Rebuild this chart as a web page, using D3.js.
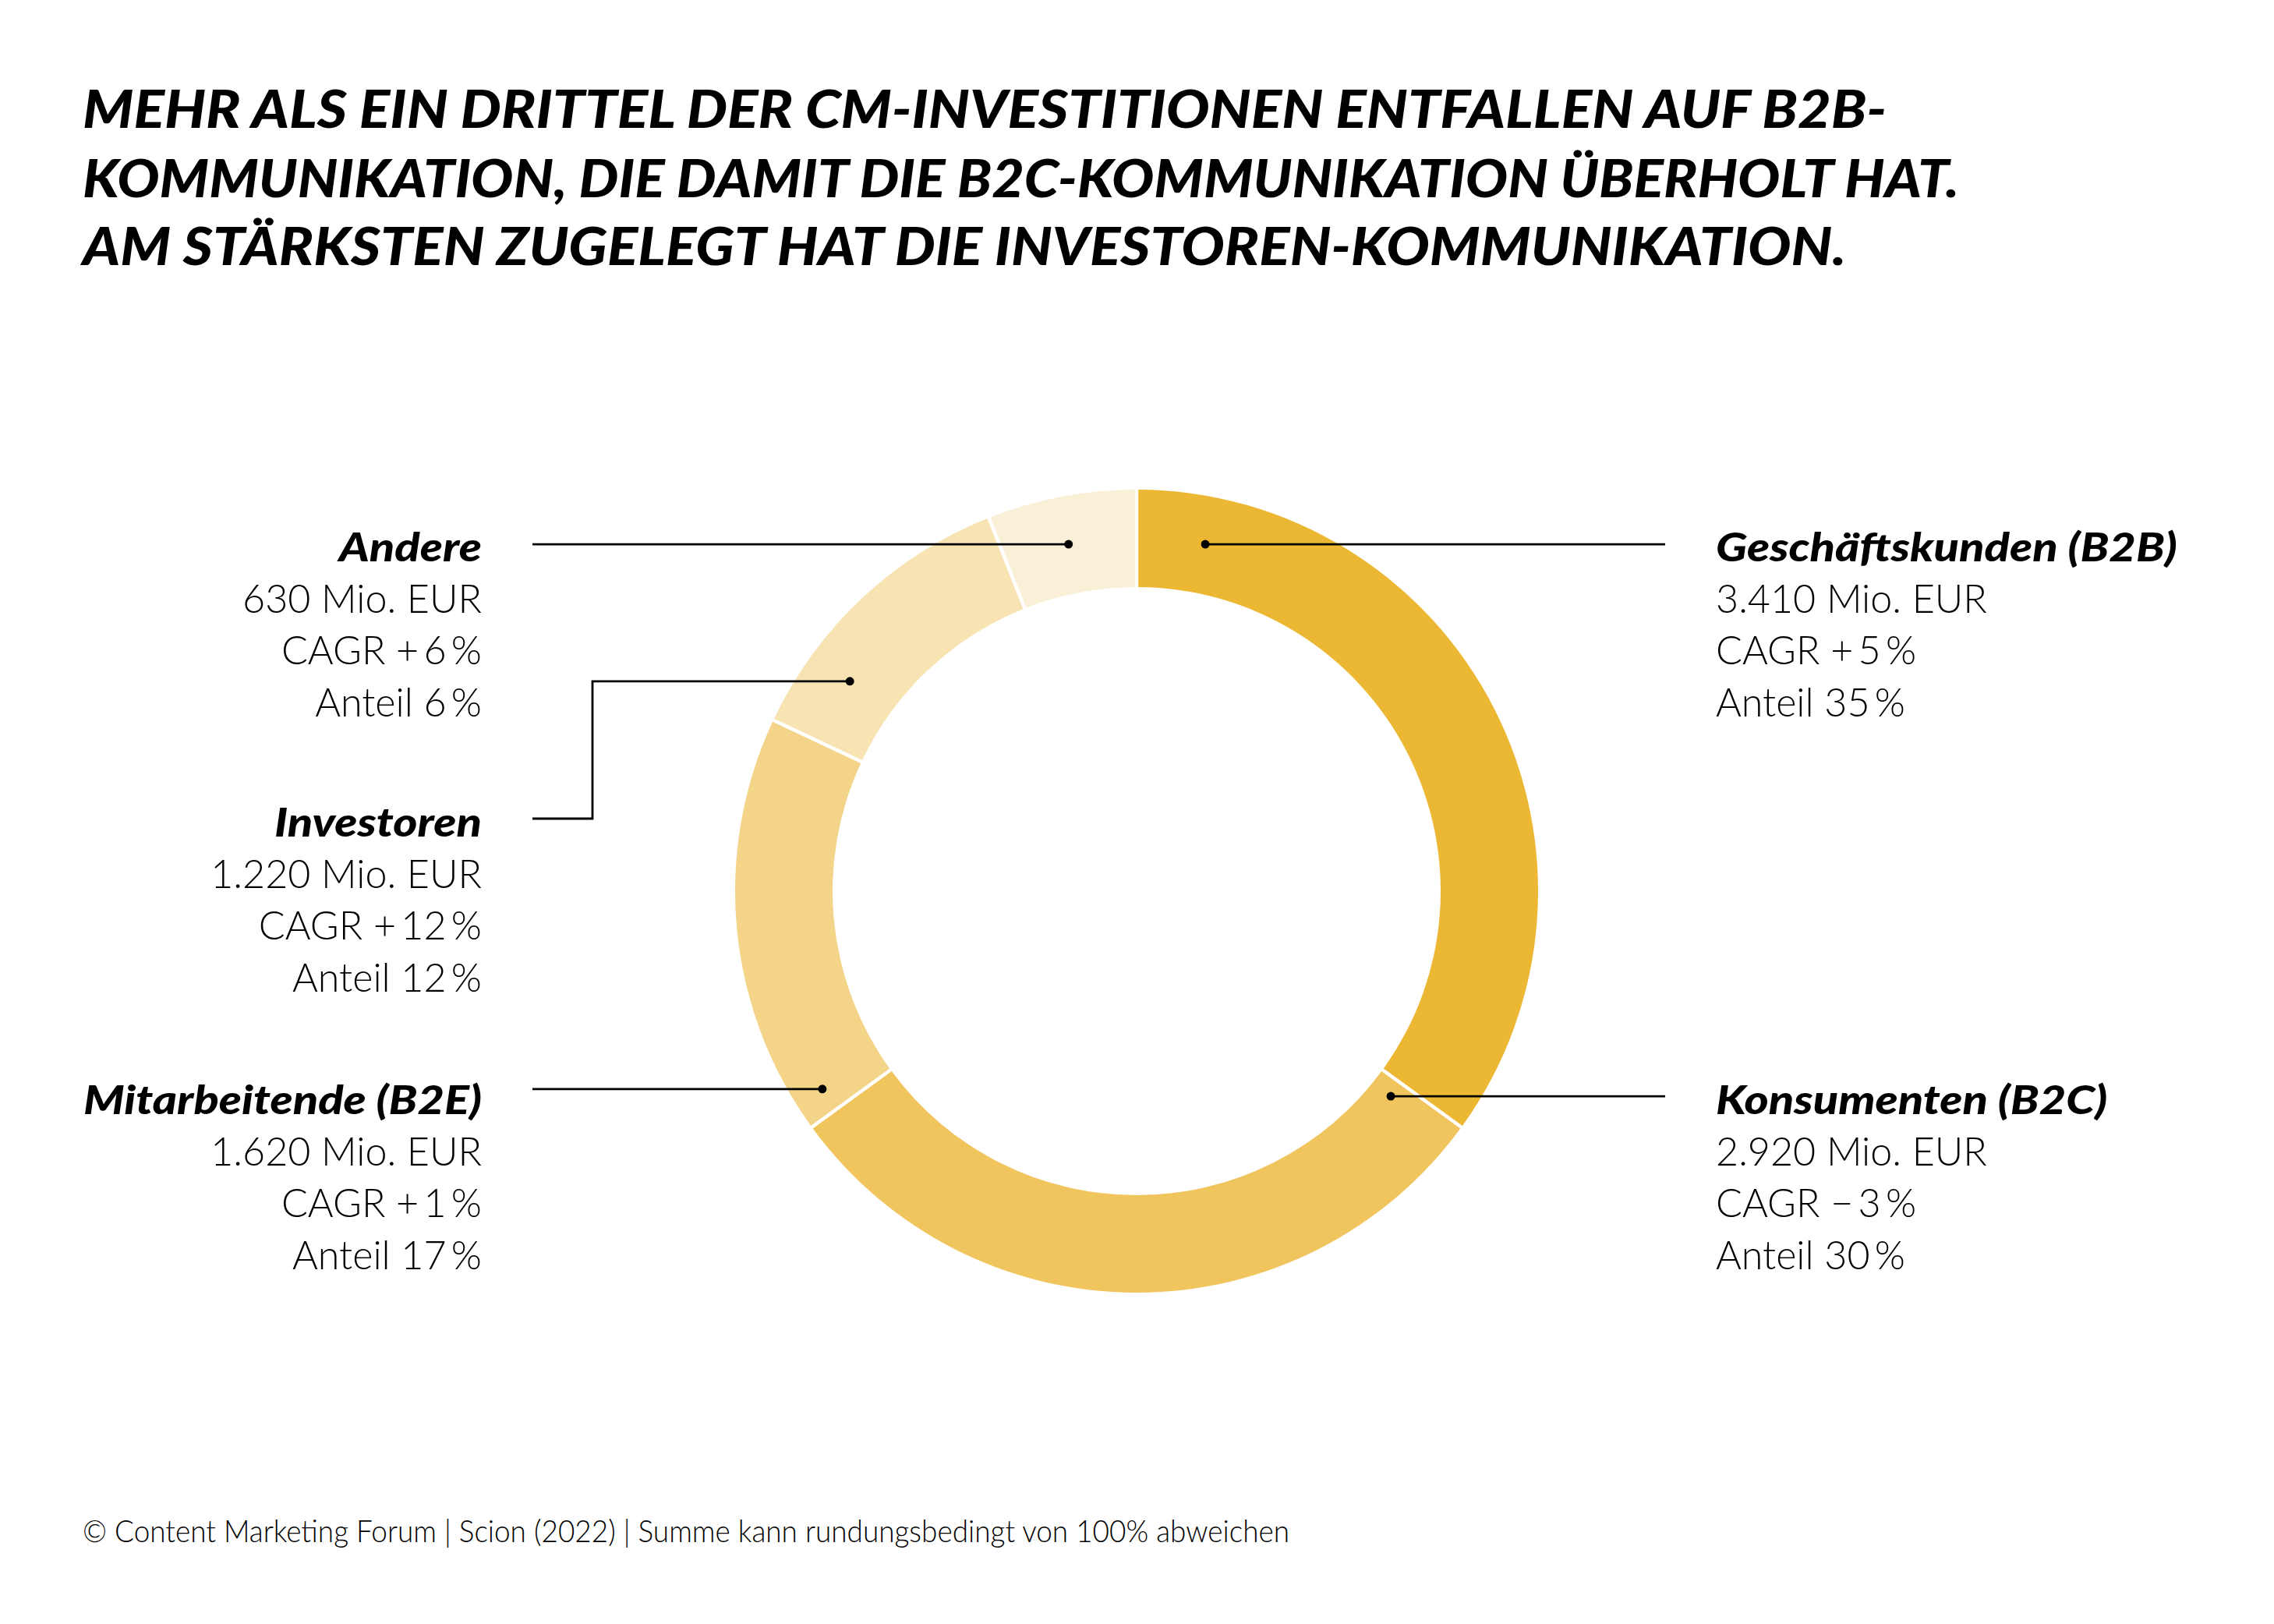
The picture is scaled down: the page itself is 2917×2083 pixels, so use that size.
<!DOCTYPE html>
<html><head><meta charset="utf-8">
<script src="https://cdn.jsdelivr.net/npm/d3@7"></script>
<style>body{margin:0;background:#fff}svg{display:block}</style>
</head><body><svg id="c"></svg>
<script>
// ---------- data ----------
const titleLines = [
  "MEHR ALS EIN DRITTEL DER CM-INVESTITIONEN ENTFALLEN AUF B2B-",
  "KOMMUNIKATION, DIE DAMIT DIE B2C-KOMMUNIKATION ÜBERHOLT HAT.",
  "AM STÄRKSTEN ZUGELEGT HAT DIE INVESTOREN-KOMMUNIKATION."
];
const categories = ["Geschäftskunden (B2B)", "Konsumenten (B2C)", "Mitarbeitende (B2E)", "Investoren", "Andere"];
const values = [3410, 2920, 1620, 1220, 630];
const cagrSign = ["+", "\u2212", "+", "+", "+"];
const cagr = [5, 3, 1, 12, 6];
const shares = [35, 30, 17, 12, 6];
const colors = ["#ECB733", "#F1C55E", "#F3D488", "#F8E4B2", "#FAF0D8"];
const footerText = "© Content Marketing Forum | Scion (2022) | Summe kann rundungsbedingt von 100% abweichen";

// ---------- layout ----------
const W = 2917, H = 2083;
const cx = 1458, cy = 1143, R = 515, r = 390;
const leftX = 618, rightX = 2201, leftLineEnd = 683, rightLineEnd = 2136;
const lineStep = [0, 66, 132, 199];
// per category: side, name baseline, anchor (deg clockwise from top, radius), optional elbow
const layout = [
  {side: "right", y: 720,  ang: 11.2,   rad: 453.6},
  {side: "right", y: 1429, ang: 128.9,  rad: 419},
  {side: "left",  y: 1429, ang: 237.8,  rad: 476.4},
  {side: "left",  y: 1073, ang: 306.2,  rad: 455.8, elbowX: 760, elbowY: 1050},
  {side: "left",  y: 720,  ang: 348.9,  rad: 453.4}
];

const svg = d3.select("#c").attr("width", W).attr("height", H);
svg.append("rect").attr("width", W).attr("height", H).attr("fill", "#fff");

const fmt = d3.formatLocale({decimal: ",", thousands: ".", grouping: [3], currency: ["", " €"]}).format(",");

// ---------- title ----------
const titleFont = "Lato, 'Open Sans', sans-serif";
const titleY = [164, 253, 340];
const titleW = [2314, 2407, 2262];
titleLines.forEach((t, i) => {
  svg.append("text")
    .attr("x", 106).attr("y", titleY[i])
    .attr("font-family", titleFont).attr("font-weight", 900).attr("font-style", "italic")
    .attr("font-size", 67).attr("fill", "#000")
    .attr("textLength", titleW[i]).attr("lengthAdjust", "spacingAndGlyphs")
    .text(t);
});

// ---------- donut (drawn from the shares) ----------
const data = categories.map((c, i) => ({c, v: values[i], s: shares[i], col: colors[i], i}));
const pie = d3.pie().sort(null).value(d => d.s).startAngle(0).endAngle(2 * Math.PI);
const arcs = pie(data);
const arc = d3.arc().innerRadius(r).outerRadius(R).padRadius(R).padAngle(4.5 / R);
const g = svg.append("g").attr("transform", `translate(${cx},${cy})`);
g.selectAll("path.slice").data(arcs).join("path")
  .attr("class", "slice")
  .attr("d", arc)
  .attr("fill", d => d.data.col);

// ---------- leaders ----------
const lg = svg.append("g");
layout.forEach((L, i) => {
  const a = L.ang * Math.PI / 180;
  const px = cx + L.rad * Math.sin(a), py = cy - L.rad * Math.cos(a);
  let pts;
  if (L.elbowX) {
    pts = [[px, py], [L.elbowX, py], [L.elbowX, L.elbowY], [leftLineEnd, L.elbowY]];
  } else {
    pts = [[px, py], [L.side === "left" ? leftLineEnd : rightLineEnd, py]];
  }
  lg.append("path").attr("d", d3.line()(pts))
    .attr("fill", "none").attr("stroke", "#000").attr("stroke-width", 2.8);
  lg.append("circle").attr("cx", px).attr("cy", py).attr("r", 5.5).attr("fill", "#000");
});

// ---------- labels ----------
const nameFont = "Lato, sans-serif";
const bodyFont = "Lato, sans-serif";
const nameSize = 51, bodySize = 51;
function measure(str, fam, wt, st, size) {
  const t = svg.append("text").attr("font-family", fam).attr("font-weight", wt)
    .attr("font-style", st).attr("font-size", size).text(str);
  const w = t.node().getComputedTextLength();
  t.remove();
  return w;
}
const nameScale = 592 / measure("Geschäftskunden (B2B)", nameFont, 900, "italic", nameSize);
const bodyScale = 307 / measure("630 Mio. EUR", bodyFont, 300, "normal", bodySize);

const labG = svg.append("g");
data.forEach((d, i) => {
  const L = layout[i];
  const x = L.side === "left" ? leftX : rightX;
  const anchor = L.side === "left" ? "end" : "start";
  const lines = [
    d.c,
    `${fmt(d.v)} Mio. EUR`,
    `CAGR ${cagrSign[i]}\u2009${cagr[i]}\u2009%`,
    `Anteil ${d.s}\u2009%`
  ];
  lines.forEach((t, k) => {
    const bold = k === 0;
    labG.append("g")
      .attr("transform", `translate(${x},${L.y + lineStep[k]}) scale(${bold ? nameScale : bodyScale},1)`)
      .append("text")
      .attr("text-anchor", anchor)
      .attr("font-family", bold ? nameFont : bodyFont)
      .attr("font-weight", bold ? 900 : 300)
      .attr("font-style", bold ? "italic" : "normal")
      .attr("font-size", bold ? nameSize : bodySize)
      .attr("fill", "#000")
      .text(t);
  });
});

// ---------- footer ----------
svg.append("text")
  .attr("x", 106).attr("y", 1978)
  .attr("font-family", "Lato, sans-serif").attr("font-weight", 300)
  .attr("font-size", 39).attr("fill", "#000")
  .attr("textLength", 1548).attr("lengthAdjust", "spacingAndGlyphs")
  .text(footerText);
</script>
</body></html>
